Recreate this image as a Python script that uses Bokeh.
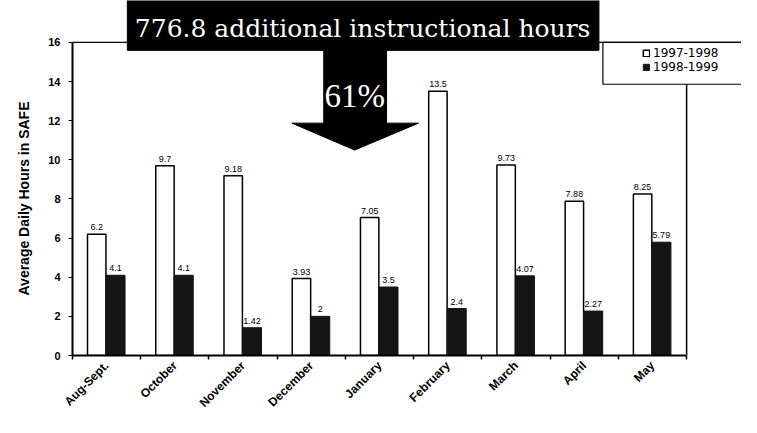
import math
from bokeh.plotting import figure
from bokeh.models import (ColumnDataSource, Range1d, FixedTicker, Legend, LegendItem,
                          Span, Title)
from bokeh.core.properties import value
from bokeh.embed import file_html
from bokeh.resources import INLINE

months = ["Aug-Sept.", "October", "November", "December", "January",
          "February", "March", "April", "May"]
hours_9798 = [6.2, 9.7, 9.18, 3.93, 7.05, 13.5, 9.73, 7.88, 8.25]
hours_9899 = [4.1, 4.1, 1.42, 2, 3.5, 2.4, 4.07, 2.27, 5.79]
series_names = ["1997-1998", "1998-1999"]
y_ticks = [0, 2, 4, 6, 8, 10, 12, 14, 16]
banner_text = "776.8 additional instructional hours"
arrow_text = "61%"
y_title = "Average Daily Hours in SAFE"

# layout constants (pixels)
W, H = 741, 417
LEFT = 70
AXIS_PY = 356          # pixel row of y = 0
BOTTOM = H - AXIS_PY
cat_px = 68.44
unit_px = 19.625
frame_w = W - LEFT
x_end = frame_w / cat_px
y_end = AXIS_PY / unit_px


def px_to_x(px):
    return (px - LEFT) / cat_px


def py_to_y(py):
    return (AXIS_PY - py) / unit_px


n = len(months)
src = ColumnDataSource(dict(
    xw=[i + 0.355 for i in range(n)],
    xb=[i + 0.63 for i in range(n)],
    a=hours_9798,
    b=hours_9899,
    la=[f"{v:g}" for v in hours_9798],
    lb=[f"{v:g}" for v in hours_9899],
))

p = figure(width=W, height=H, output_backend="svg", toolbar_location=None,
           x_range=Range1d(0, x_end), y_range=Range1d(0, y_end),
           min_border_left=LEFT, min_border_right=0, min_border_top=0,
           min_border_bottom=BOTTOM, outline_line_color=None)
p.grid.visible = False
p.background_fill_color = "white"
p.border_fill_color = "white"

# bars
rw = p.vbar(x="xw", top="a", width=0.27, source=src, fill_color="white",
            line_color="black", line_width=1.5)
rb = p.vbar(x="xb", top="b", width=0.28, source=src, fill_color="#151515",
            line_color="#151515", line_width=1)

# data labels
lbl_font = value("Liberation Sans")
p.text(x="xw", y="a", text="la", source=src, text_align="center",
       text_baseline="bottom", y_offset=-4, text_font_size="9px",
       text_font=lbl_font, text_color="black")
p.text(x="xb", y="b", text="lb", source=src, text_align="center",
       text_baseline="bottom", y_offset=-4, text_font_size="9px",
       text_font=lbl_font, text_color="black")

# frame lines
p.add_layout(Span(location=16, dimension="width", line_color="black", line_width=1.2))
legend_bottom = py_to_y(84)
p.segment(x0=[n], y0=[0], x1=[n], y1=[legend_bottom], line_color="black", line_width=1.5)

# legend box
p.quad(left=[px_to_x(602)], right=[x_end + 1], bottom=[legend_bottom], top=[16],
       fill_color="white", line_color="black", line_width=1.2)

# axes
p.xaxis.bounds = (0, n)
p.xaxis.ticker = FixedTicker(ticks=[i + 0.5 for i in range(n)],
                             minor_ticks=list(range(n + 1)))
p.xaxis.major_label_overrides = {i + 0.5: m for i, m in enumerate(months)}
p.xaxis.major_tick_out = 0
p.xaxis.major_tick_in = 0
p.xaxis.minor_tick_out = 4
p.xaxis.minor_tick_in = 0
p.xaxis.major_label_orientation = math.pi / 4
p.xaxis.major_label_text_font = "Liberation Sans"
p.xaxis.major_label_text_font_style = "bold"
p.xaxis.major_label_text_font_size = "12px"
p.xaxis.major_label_text_color = "black"
p.xaxis.major_label_standoff = 4
p.xaxis.axis_line_width = 2
p.xaxis.axis_line_color = "black"
p.xaxis.minor_tick_line_color = "black"
p.xaxis.minor_tick_line_width = 1.5

p.yaxis.bounds = (0, 16)
p.yaxis.ticker = FixedTicker(ticks=y_ticks)
p.yaxis.major_tick_out = 4
p.yaxis.major_tick_in = 0
p.yaxis.minor_tick_line_color = None
p.yaxis.major_label_text_font = "Liberation Sans"
p.yaxis.major_label_text_font_style = "bold"
p.yaxis.major_label_text_font_size = "11px"
p.yaxis.major_label_text_color = "black"
p.yaxis.major_label_standoff = 8
p.yaxis.axis_line_width = 2
p.yaxis.axis_line_color = "black"
p.yaxis.major_tick_line_color = "black"

# y axis title
p.add_layout(Title(text=y_title, align="left", offset=60, standoff=27,
                   text_font="Liberation Sans", text_font_style="bold",
                   text_font_size="14px", text_color="black"), "left")

# banner box and arrow
p.quad(left=[px_to_x(125)], right=[px_to_x(598)], bottom=[py_to_y(50)],
       top=[y_end + 1], fill_color="black", line_color="black")
ax = [px_to_x(v) for v in (322, 385, 385, 417, 353, 290, 322)]
ay = [py_to_y(v) for v in (50, 50, 123, 123, 150, 123, 123)]
p.patch(x=ax, y=ay, fill_color="black", line_color="black")
p.text(x=[px_to_x(361)], y=[py_to_y(28)], text=[banner_text], text_align="center",
       text_baseline="middle", text_font=value("DejaVu Serif"),
       text_font_size="25px", text_color="white")
p.text(x=[px_to_x(353)], y=[py_to_y(96)], text=[arrow_text], text_align="center",
       text_baseline="middle", text_font=value("Liberation Serif"),
       text_font_size="33px", text_color="white")

# legend
legend = Legend(items=[LegendItem(label=series_names[0], renderers=[rw]),
                       LegendItem(label=series_names[1], renderers=[rb])],
                location=(568, 279), orientation="vertical",
                border_line_alpha=0, background_fill_alpha=0,
                padding=2, spacing=0, margin=0,
                glyph_width=8, glyph_height=8, label_height=12,
                label_standoff=3, label_text_font="DejaVu Sans",
                label_text_font_size="12px", label_text_color="black")
p.add_layout(legend, "center")

open("out.html", "w").write(file_html(p, INLINE))
